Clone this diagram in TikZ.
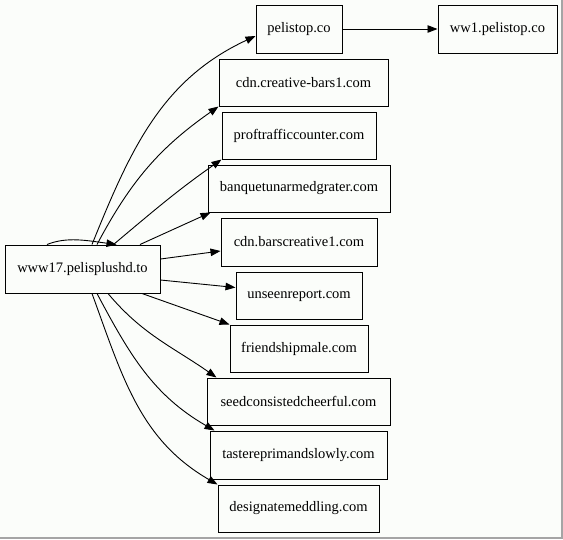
\documentclass[tikz,border=0pt]{standalone}
\usepackage{fontspec}
\setmainfont{Liberation Serif}
\usetikzlibrary{arrows.meta}
\definecolor{bg}{RGB}{251,253,250}
\definecolor{framegray}{RGB}{165,165,165}
\begin{document}
\begin{tikzpicture}[x=1pt,y=1pt,
  box/.style={draw=black,line width=1pt,inner sep=0pt,minimum height=47pt,font=\fontsize{14.5}{17}\selectfont},
  edge/.style={line width=0.9pt,-{Triangle[length=10pt,width=7.5pt]}}
]
\fill[bg] (0,0) rectangle (563,-539);
\useasboundingbox (0,0) rectangle (563,-539);
\draw[framegray,line width=2pt] (562,0) -- (562,-538) -- (0,-538);

\node[box,minimum width=86pt,minimum height=48pt] (pel) at (299,-29) {pelistop.co};
\node[box,minimum width=119pt,minimum height=48pt] (ww1) at (497.5,-29) {ww1.pelistop.co};
\node[box,minimum width=169pt] (cc) at (303.5,-82.5) {cdn.creative-bars1.com};
\node[box,minimum width=154pt] (pt) at (299,-135.5) {proftrafficcounter.com};
\node[box,minimum width=182pt] (bq) at (299,-188.5) {banquetunarmedgrater.com};
\node[box,minimum width=156pt,minimum height=48pt] (cb) at (299,-242) {cdn.barscreative1.com};
\node[box,minimum width=126pt] (ur) at (299,-295.5) {unseenreport.com};
\node[box,minimum width=138pt] (fm) at (299,-348.5) {friendshipmale.com};
\node[box,minimum width=183pt] (sc) at (298.5,-401.5) {seedconsistedcheerful.com};
\node[box,minimum width=177pt,minimum height=48pt] (tr) at (298.5,-455) {tastereprimandslowly.com};
\node[box,minimum width=161pt] (dm) at (298.5,-508.5) {designatemeddling.com};
\node[box,minimum width=155pt,minimum height=48pt] (w) at (82.5,-269) {www17.pelisplushd.to};

\draw[edge] ([xshift=-35.5]w.north) .. controls +(20,8) and +(-30,4) .. ([xshift=34]w.north);
\draw[edge] ([xshift=9.5]w.north) to[out=68,in=205] ([yshift=-7]pel.west);
\draw[edge] ([xshift=14.5]w.north) to[out=62,in=215] (cc.south west);
\draw[edge] ([xshift=31]w.north) to[out=40,in=215] (pt.south west);
\draw[edge] ([xshift=57.5]w.north) -- ([xshift=3]bq.south west);
\draw[edge] ([yshift=10]w.east) -- ([yshift=-9]cb.west);
\draw[edge] ([yshift=-11]w.east) -- ([yshift=8]ur.west);
\draw[edge] ([xshift=59.5]w.south) -- (fm.north west);
\draw[edge] ([xshift=25.5]w.south) to[out=-50,in=145] ([xshift=10]sc.north west);
\draw[edge] ([xshift=14.5]w.south) to[out=-62,in=150] ([xshift=5]tr.north west);
\draw[edge] ([xshift=9.5]w.south) to[out=-70,in=150] (dm.north west);
\draw[edge] (pel) -- (ww1);
\end{tikzpicture}
\end{document}
